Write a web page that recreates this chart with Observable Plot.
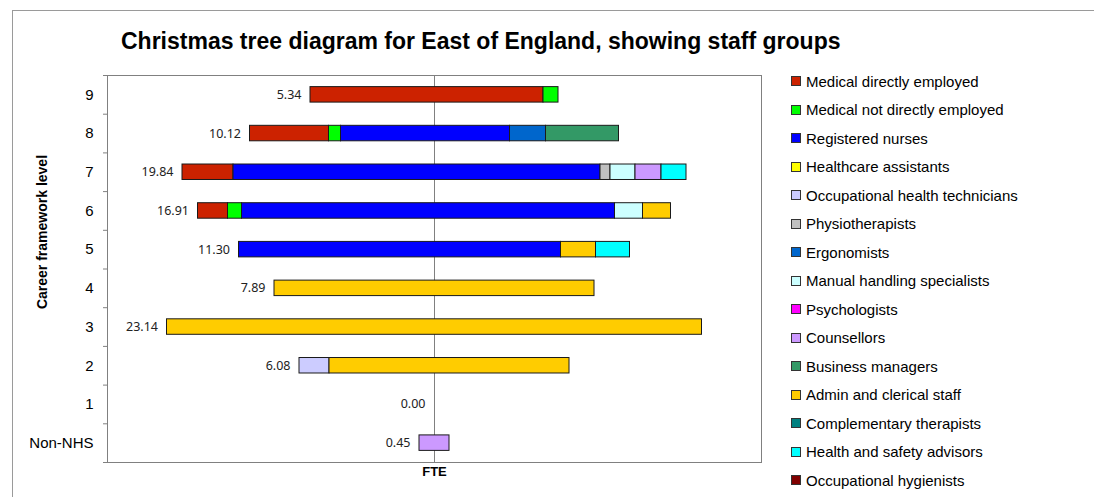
<!DOCTYPE html>
<html>
<head>
<meta charset="utf-8">
<script src="https://cdn.jsdelivr.net/npm/d3@7"></script>
<script src="https://cdn.jsdelivr.net/npm/@observablehq/plot@0.6"></script>
<style>
  body { margin: 0; background: #fff; font-family: "Liberation Sans", Arial, sans-serif; }
  #wrap { position: relative; width: 1094px; height: 497px; overflow: hidden; background: #fff; }
  #border { position: absolute; left: 12px; top: 10px; width: 1200px; height: 600px;
            border-left: 1px solid #9a9a9a; border-top: 1px solid #9a9a9a; }
  #chart { position: absolute; left: 0; top: 0; }
  #title { position: absolute; left: 121px; top: 30px; font-size: 23px; line-height: 23px;
           font-weight: bold; color: #000; white-space: nowrap; }
  #ytitle { position: absolute; left: 42px; top: 232px; width: 0; height: 0; }
  #ytitle span { position: absolute; left: 0; top: 0; transform: translate(-50%, -50%) rotate(-90deg);
                 font-size: 14px; font-weight: bold; color: #000; white-space: nowrap; }
  #legend { position: absolute; left: 791px; top: 67px; }
  .item { display: flex; align-items: center; height: 28.5px; font-size: 15px; color: #000; white-space: nowrap; }
  .sw { width: 8px; height: 8px; border: 1px solid #333; margin-right: 5px; flex: none; }
</style>
</head>
<body>
<div id="wrap">
  <div id="border"></div>
  <div id="chart"></div>
  <div id="title">Christmas tree diagram for East of England, showing staff groups</div>
  <div id="ytitle"><span>Career framework level</span></div>
  <div id="legend"></div>
</div>
<script>
// Career framework levels (top to bottom)
const levels = ["9", "8", "7", "6", "5", "4", "3", "2", "1", "Non-NHS"];
// Labelled totals shown to the left of each bar
const totals = [5.34, 10.12, 19.84, 16.91, 11.30, 7.89, 23.14, 6.08, 0.00, 0.45];

// Staff groups and colours (legend order = stacking order)
const groups = [
  "Medical directly employed", "Medical not directly employed", "Registered nurses",
  "Healthcare assistants", "Occupational health technicians", "Physiotherapists",
  "Ergonomists", "Manual handling specialists", "Psychologists", "Counsellors",
  "Business managers", "Admin and clerical staff", "Complementary therapists",
  "Health and safety advisors", "Occupational hygienists"
];
const colors = [
  "#CC2200", "#00FF00", "#0000FF", "#FFFF00", "#CCCCFF", "#C0C0C0", "#0066CC",
  "#CCFFFF", "#FF00FF", "#CC99FF", "#339966", "#FFCC00", "#008080", "#00FFFF", "#800000"
];

// FTE per staff group, per level (same order as levels)
const medicalDirect        = [23.3, 7.9, 5.1, 3.0, 0, 0, 0, 0, 0, 0];
const medicalNotDirect     = [1.5, 1.2, 0, 1.4, 0, 0, 0, 0, 0, 0];
const registeredNurses     = [0, 16.9, 36.7, 37.3, 32.2, 0, 0, 0, 0, 0];
const healthcareAssistants = [0, 0, 0, 0, 0, 0, 0, 0, 0, 0];
const occHealthTechs       = [0, 0, 0, 0, 0, 0, 0, 3.0, 0, 0];
const physiotherapists     = [0, 0, 1.0, 0, 0, 0, 0, 0, 0, 0];
const ergonomists          = [0, 3.6, 0, 0, 0, 0, 0, 0, 0, 0];
const manualHandling       = [0, 0, 2.5, 2.8, 0, 0, 0, 0, 0, 0];
const psychologists        = [0, 0, 0, 0, 0, 0, 0, 0, 0, 0];
const counsellors          = [0, 0, 2.6, 0, 0, 0, 0, 0, 0, 3.0];
const businessManagers     = [0, 7.3, 0, 0, 0, 0, 0, 0, 0, 0];
const adminClerical        = [0, 0, 0, 2.8, 3.5, 32.0, 53.5, 24.0, 0, 0];
const complementary        = [0, 0, 0, 0, 0, 0, 0, 0, 0, 0];
const healthSafety         = [0, 0, 2.5, 0, 3.4, 0, 0, 0, 0, 0];
const occHygienists        = [0, 0, 0, 0, 0, 0, 0, 0, 0, 0];

const series = [
  medicalDirect, medicalNotDirect, registeredNurses, healthcareAssistants, occHealthTechs,
  physiotherapists, ergonomists, manualHandling, psychologists, counsellors,
  businessManagers, adminClerical, complementary, healthSafety, occHygienists
];

// Build centred stacks
const segments = [];
const labels = [];
levels.forEach((lev, i) => {
  const vals = groups.map((g, k) => ({group: g, value: series[k][i]})).filter(d => d.value > 0);
  const tot = d3.sum(vals, d => d.value);
  let x = -tot / 2;
  labels.push({i, x, text: totals[i].toFixed(2)});
  for (const v of vals) {
    segments.push({i, level: lev, group: v.group, x1: x, x2: x + v.value});
    x += v.value;
  }
});

const chart = Plot.plot({
  width: 1094,
  height: 497,
  marginLeft: 107,
  marginRight: 333,
  marginTop: 75,
  marginBottom: 35,
  style: {background: "transparent", fontFamily: "'Liberation Sans', Arial, sans-serif", fontSize: "15px", color: "#000"},
  x: {domain: [-32.7, 32.7], axis: null},
  y: {domain: [-0.5, levels.length - 0.5], reverse: true, axis: null},
  color: {domain: groups, range: colors},
  marks: [
    Plot.frame({stroke: "#808080"}),
    Plot.ruleX([0], {stroke: "#808080"}),
    Plot.axisY({ticks: d3.range(-0.5, levels.length, 1), tickSize: 4, tickFormat: () => "", stroke: "#808080", label: null}),
    Plot.axisY({ticks: d3.range(levels.length), tickSize: 0, tickPadding: 14, tickFormat: i => levels[i], label: null, fontSize: 15, fill: "#000"}),
    Plot.rectX(segments, {
      x1: "x1", x2: "x2",
      y1: d => d.i - 0.2, y2: d => d.i + 0.2,
      fill: "group", stroke: "#1a1a1a", strokeWidth: 1
    }),
    Plot.text(labels, {x: "x", y: "i", text: "text", textAnchor: "end", dx: -9,
      fontSize: 12.5, fontFamily: "'Noto Sans', sans-serif", fill: "#222"}),
    Plot.text(["FTE"], {frameAnchor: "bottom", dy: 13, fontWeight: "bold", fontSize: 13, fill: "#000"})
  ]
});
document.getElementById("chart").appendChild(chart);

// Legend
const legend = document.getElementById("legend");
groups.forEach((g, k) => {
  const row = document.createElement("div");
  row.className = "item";
  const sw = document.createElement("span");
  sw.className = "sw";
  sw.style.background = colors[k];
  const t = document.createElement("span");
  t.textContent = g;
  row.appendChild(sw);
  row.appendChild(t);
  legend.appendChild(row);
});
</script>
</body>
</html>
